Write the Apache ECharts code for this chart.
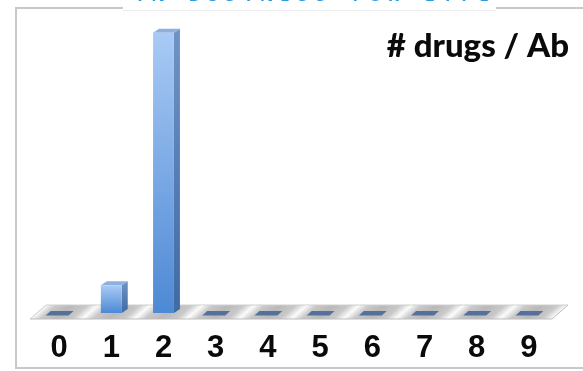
<!DOCTYPE html>
<html>
<head>
<meta charset="utf-8">
<script src="https://cdn.jsdelivr.net/npm/echarts@6/dist/echarts.min.js"></script>
<style>
  html, body { margin: 0; padding: 0; background: #ffffff; }
  #chart { width: 583px; height: 371px; }
</style>
</head>
<body>
<div id="chart"></div>
<script>
// Number of drug molecules per antibody, share of species (%)
const categories = ['0', '1', '2', '3', '4', '5', '6', '7', '8', '9'];
const drugsPerAb = [0, 9, 91, 0, 0, 0, 0, 0, 0, 0];
const chartTitle = '# drugs / Ab';
const bannerText = 'IN BUSINESS FOR LIFE';

const chart = echarts.init(document.getElementById('chart'), null, { renderer: 'canvas' });

// Depth of the 3D floor slab and of the bars
const FLOOR_DX = 16, FLOOR_DY = -14, FLOOR_FRONT_DX = -3, FLOOR_FRONT_DY = 6;
const BAR_DX = 6, BAR_DY = -4;

function renderFloor(params, api) {
  const i = api.value(0);
  const p = api.coord([i, 0]);
  const bw = api.size([1, 0])[0];
  const xl = p[0] - bw / 2 + FLOOR_FRONT_DX;
  const xr = p[0] + bw / 2 + FLOOR_FRONT_DX;
  const yf = p[1] + FLOOR_FRONT_DY;
  const pts = [[xl, yf], [xr, yf], [xr + FLOOR_DX, yf + FLOOR_DY], [xl + FLOOR_DX, yf + FLOOR_DY]];
  const len = Math.hypot(-FLOOR_DY, FLOOR_DX);
  const nx = -FLOOR_DY / len, ny = FLOOR_DX / len;
  const d = bw * nx;
  const children = [{
    type: 'polygon',
    shape: { points: pts },
    style: {
      fill: {
        type: 'linear', global: true,
        x: xl, y: yf, x2: xl + d * nx, y2: yf + d * ny,
        colorStops: [
          { offset: 0, color: '#fbfbfb' },
          { offset: 0.2, color: '#c9c9c9' },
          { offset: 0.5, color: '#b9b9b9' },
          { offset: 0.8, color: '#c9c9c9' },
          { offset: 1, color: '#fbfbfb' }
        ]
      }
    }
  }, {
    type: 'polyline',
    shape: { points: [[xl, yf], [xr, yf]] },
    style: { stroke: '#bdbdbd', lineWidth: 1, fill: null }
  }, {
    type: 'polyline',
    shape: { points: [[xl + FLOOR_DX, yf + FLOOR_DY], [xr + FLOOR_DX, yf + FLOOR_DY]] },
    style: { stroke: '#cfcfcf', lineWidth: 1, fill: null }
  }];
  if (i === 0) {
    children.push({ type: 'polyline', shape: { points: [[xl, yf], [xl + FLOOR_DX, yf + FLOOR_DY]] },
      style: { stroke: '#cccccc', lineWidth: 1, fill: null } });
  }
  if (i === categories.length - 1) {
    children.push({ type: 'polyline', shape: { points: [[xr, yf], [xr + FLOOR_DX, yf + FLOOR_DY]] },
      style: { stroke: '#bdbdbd', lineWidth: 1, fill: null } });
  }
  return { type: 'group', children: children };
}

function renderBar(params, api) {
  const i = api.value(0);
  const v = api.value(1);
  const p0 = api.coord([i, 0]);
  const p1 = api.coord([i, v]);
  const bw = api.size([1, 0])[0] * 0.4;
  const xl = p0[0] - bw / 2;
  const xr = p0[0] + bw / 2;
  const y0 = p0[1];
  const y1 = p1[1];
  if (v === 0) {
    // a zero bar shows only its flat cap on the floor
    return {
      type: 'polygon',
      shape: { points: [[xl - 3, y0 + 2.5], [xr - 1, y0 + 2.5], [xr + 4, y0 - 2], [xl + 2, y0 - 2]] },
      style: { fill: '#55709a' }
    };
  }
  return {
    type: 'group',
    children: [{
      type: 'polygon',
      shape: { points: [[xr, y1], [xr + BAR_DX, y1 + BAR_DY], [xr + BAR_DX, y0 + BAR_DY], [xr, y0]] },
      style: {
        fill: new echarts.graphic.LinearGradient(0, 0, 0, 1, [
          { offset: 0, color: '#6f93c6' },
          { offset: 1, color: '#3f6aa3' }
        ])
      }
    }, {
      type: 'polygon',
      shape: { points: [[xl, y1], [xr, y1], [xr + BAR_DX, y1 + BAR_DY], [xl + BAR_DX, y1 + BAR_DY]] },
      style: { fill: '#8fb0dc' }
    }, {
      type: 'rect',
      shape: { x: xl, y: y1, width: bw, height: y0 - y1 },
      style: {
        fill: new echarts.graphic.LinearGradient(0, 0, 0, 1, [
          { offset: 0, color: '#a9caf5' },
          { offset: 1, color: '#4d89d4' }
        ])
      }
    }]
  };
}

// Banner letters, spread out across the top border gap
const bannerChildren = [];
const bannerStart = 140, bannerStep = 18.1;
bannerText.split('').forEach(function (ch, k) {
  if (ch === ' ') return;
  bannerChildren.push({
    type: 'text',
    x: bannerStart + k * bannerStep,
    y: -12,
    style: {
      text: ch,
      fill: '#2b9ce2',
      fontSize: 17,
      fontWeight: 'bold',
      fontFamily: '"Open Sans", sans-serif',
      align: 'center',
      verticalAlign: 'top'
    }
  });
});

const option = {
  backgroundColor: '#ffffff',
  animation: false,
  title: {
    text: chartTitle,
    right: 9,
    top: 25,
    textStyle: {
      fontFamily: 'Lato',
      fontWeight: 900,
      fontSize: 33,
      color: '#0a0a0a'
    }
  },
  grid: { left: 33, right: 28, top: 5, bottom: 58 },
  xAxis: {
    type: 'category',
    data: categories,
    axisLine: { show: false },
    axisTick: { show: false },
    axisLabel: {
      margin: 20,
      fontFamily: '"Liberation Sans Narrow", "Liberation Sans", Arial, sans-serif',
      fontWeight: 'bold',
      fontSize: 31,
      color: '#0a0a0a'
    },
    splitLine: { show: false }
  },
  yAxis: {
    type: 'value',
    min: 0,
    max: 100,
    show: false
  },
  series: [{
    type: 'custom',
    name: 'floor',
    renderItem: renderFloor,
    data: categories.map(function (c, i) { return [i]; }),
    encode: { x: 0 },
    silent: true,
    z: 1
  }, {
    type: 'custom',
    name: 'drugs per Ab',
    renderItem: renderBar,
    data: drugsPerAb.map(function (v, i) { return [i, v]; }),
    encode: { x: 0, y: 1 },
    z: 2
  }],
  graphic: [{
    type: 'polyline',
    shape: { points: [[123, 8], [16, 8], [16, 368], [583, 368]] },
    style: { stroke: '#c8c8c8', lineWidth: 2, fill: null },
    silent: true
  }, {
    type: 'polyline',
    shape: { points: [[496, 8], [583, 8]] },
    style: { stroke: '#c8c8c8', lineWidth: 2, fill: null },
    silent: true
  }, {
    type: 'polyline',
    shape: { points: [[123, 10.5], [496, 10.5]] },
    style: { stroke: '#ececec', lineWidth: 1, fill: null },
    silent: true
  }].concat(bannerChildren.map(function (t) {
    return Object.assign({ silent: true, z: 10 }, t);
  }))
};

chart.setOption(option);
</script>
</body>
</html>
